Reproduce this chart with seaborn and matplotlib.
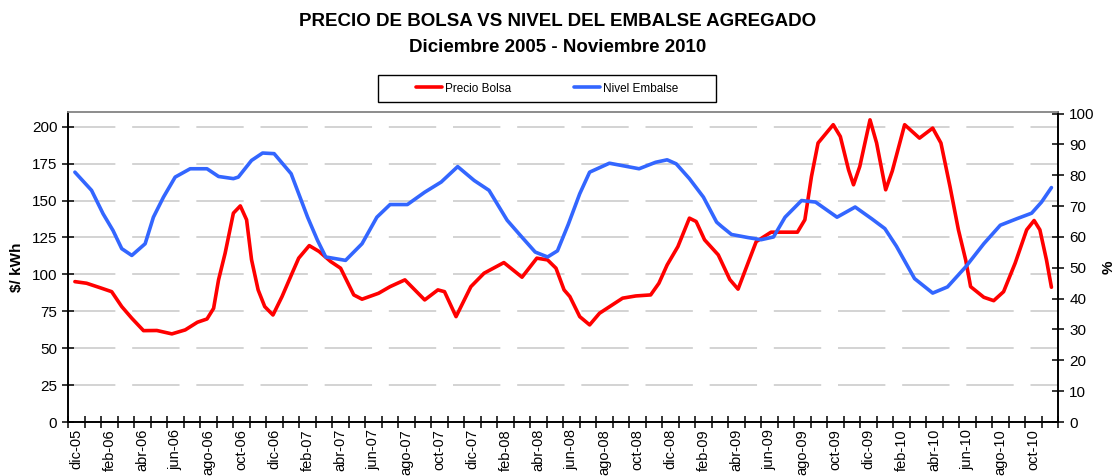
import numpy as np
import matplotlib
matplotlib.use("Agg")
import matplotlib.pyplot as plt
from matplotlib.patches import Rectangle
import seaborn as sns

# Months counted from the start of dic-05
precio_mes = [0.39, 1.1, 1.91, 2.62, 3.23, 3.84, 4.55, 5.36, 6.27, 7.08, 7.82, 8.4, 8.8,
              9.1, 9.5, 10.0, 10.42, 10.8, 11.1, 11.5, 11.9, 12.4, 12.95, 13.56, 13.96,
              14.6, 15.2, 15.9, 16.5, 17.3, 17.8, 18.8, 19.5, 20.4, 21.6, 22.4, 22.8,
              23.5, 24.4, 25.2, 26.4, 27.5, 28.4, 29.05, 29.56, 30.05, 30.4, 31.0, 31.6,
              32.2, 33.6, 34.4, 35.3, 35.8, 36.3, 36.95, 37.65, 38.06, 38.57, 39.4, 40.1,
              40.6, 41.2, 41.7, 42.6, 44.2, 44.65, 45.05, 45.45, 46.37, 46.8, 47.3, 47.6,
              47.98, 48.6, 49.0, 49.55, 49.95, 50.7, 51.6, 52.4, 52.9, 53.45, 53.96, 54.4,
              54.7, 55.5, 56.1, 56.7, 57.4, 58.1, 58.55, 58.9, 59.3, 59.6]
precio_bolsa = [95.1, 94.0, 91.0, 88.3, 78.2, 70.3, 61.9, 62.0, 59.7, 62.4, 67.6, 69.8, 77.0,
                96.3, 114.4, 141.5, 146.4, 137.0, 110.0, 89.5, 78.2, 72.5, 85.0, 100.8, 111.0,
                119.5, 115.5, 108.7, 104.2, 86.1, 83.2, 87.2, 91.7, 96.3, 82.7, 89.5, 88.3,
                71.4, 91.7, 100.8, 108.0, 98.1, 111.0, 109.8, 104.2, 89.5, 85.0, 71.4, 65.8,
                73.7, 83.9, 85.4, 86.1, 94.0, 106.4, 118.8, 138.1, 135.8, 123.4, 113.2, 96.5,
                90.0, 107.6, 122.2, 128.6, 128.6, 137.0, 166.3, 189.0, 201.4, 193.4, 170.8, 160.7,
                173.1, 204.7, 189.0, 157.3, 170.0, 201.4, 192.3, 199.1, 189.0, 159.5, 130.2, 109.8,
                91.7, 84.5, 82.2, 88.3, 107.6, 130.2, 136.5, 130.2, 109.8, 91.3]

nivel_mes = [0.39, 1.4, 2.1, 2.7, 3.23, 3.84, 4.65, 5.15, 5.76, 6.47, 7.38, 8.4, 9.1, 10.0,
             10.3, 11.1, 11.77, 12.47, 13.5, 14.5, 15.1, 15.6, 16.8, 17.8, 18.7, 19.5,
             20.55, 21.6, 22.6, 23.6, 24.6, 25.5, 26.6, 27.4, 28.3, 29.05, 29.65, 30.3,
             31.0, 31.6, 32.8, 34.6, 35.6, 36.3, 36.85, 37.65, 38.5, 39.3, 39.6, 40.2,
             41.2, 42.0, 42.75, 43.45, 44.45, 45.3, 46.6, 47.7, 48.7, 49.5, 50.2, 51.3,
             52.4, 53.3, 54.4, 55.5, 56.5, 57.5, 58.4, 59.0, 59.6]
nivel_embalse = [81.0, 75.1, 67.5, 62.1, 56.2, 54.0, 57.8, 66.4, 72.9, 79.4, 82.1, 82.1, 79.6, 78.9,
                 79.4, 84.8, 87.2, 87.0, 80.5, 66.4, 58.9, 53.5, 52.4, 57.8, 66.4, 70.5,
                 70.5, 74.5, 77.8, 82.8, 78.3, 75.1, 65.4, 60.5, 55.1, 53.5, 55.5, 64.0,
                 74.0, 81.0, 83.9, 82.1, 84.2, 85.0, 83.7, 78.9, 72.9, 64.8, 63.4, 60.8,
                 59.8, 59.1, 60.0, 66.4, 71.8, 71.3, 66.4, 69.7, 65.9, 62.7, 57.0, 46.5,
                 41.8, 43.8, 50.3, 57.8, 63.8, 65.9, 67.7, 71.3, 76.0]

etiquetas_mes = ["dic-05", "feb-06", "abr-06", "jun-06", "ago-06", "oct-06", "dic-06",
                 "feb-07", "abr-07", "jun-07", "ago-07", "oct-07", "dic-07", "feb-08",
                 "abr-08", "jun-08", "ago-08", "oct-08", "dic-08", "feb-09", "abr-09",
                 "jun-09", "ago-09", "oct-09", "dic-09", "feb-10", "abr-10", "jun-10",
                 "ago-10", "oct-10"]
n_meses = 60

sns.set_theme(style="white")
plt.rcParams["font.family"] = ["Liberation Sans", "DejaVu Sans"]
plt.rcParams["text.color"] = "black"
plt.rcParams["axes.labelcolor"] = "black"
plt.rcParams["xtick.color"] = "black"
plt.rcParams["ytick.color"] = "black"

fig = plt.figure(figsize=(11.15, 4.76), dpi=100)
ax = fig.add_axes([0.0614, 0.1134, 0.8875, 0.6513])
ax2 = ax.twinx()

rojo = "#FF0000"
azul = "#3366FF"

sns.lineplot(x=precio_mes, y=precio_bolsa, ax=ax, color=rojo, lw=2.6, label="Precio Bolsa", legend=False)
sns.lineplot(x=nivel_mes, y=nivel_embalse, ax=ax2, color=azul, lw=2.6, label="Nivel Embalse", legend=False)

ax.set_xlim(0, n_meses)
ax.set_ylim(0, 210)
ax2.set_ylim(0, 100.5)
ax.set_yticks(np.arange(0, 201, 25))
ax2.set_yticks(np.arange(0, 101, 10))

# dashed horizontal grid on left-axis ticks
ax.yaxis.grid(True, color="#C8C8C8", lw=1.1, dashes=(31, 11))
ax.set_axisbelow(True)

# monthly tick marks, labels every second month centred in the month
ax.set_xticks(np.arange(0, n_meses + 1, 1))
ax.set_xticklabels([])
ax.set_xticks(np.arange(0.5, n_meses, 2), minor=True)
ax.set_xticklabels(etiquetas_mes, minor=True, rotation=90, fontsize=10.5)
ax.tick_params(axis="x", which="major", direction="inout", length=9, width=1.1, color="black", bottom=True)
ax.tick_params(axis="x", which="minor", length=0, pad=5, bottom=True, labelcolor="black")
ax.tick_params(axis="y", direction="inout", length=9, width=1.1, color="black", labelsize=11,
               left=True, labelcolor="black")
ax2.tick_params(axis="y", direction="inout", length=9, width=1.1, color="black", labelsize=11,
                right=True, labelcolor="black")

for a in (ax, ax2):
    for side in ("left", "right", "bottom"):
        a.spines[side].set_color("black")
        a.spines[side].set_linewidth(1.2)
    a.spines["top"].set_color("#8C8C8C")
    a.spines["top"].set_linewidth(1.2)

ax.set_ylabel("$/ kWh", fontsize=11, fontweight="bold", labelpad=6, color="black")
ax2.set_ylabel("%", fontsize=11, fontweight="bold", labelpad=5, color="black")
ax.set_xlabel("")

fig.text(0.5, 0.955, "PRECIO DE BOLSA VS NIVEL DEL EMBALSE AGREGADO", ha="center", va="center",
         fontsize=13.5, fontweight="bold", color="black")
fig.text(0.5, 0.9, "Diciembre 2005 - Noviembre 2010", ha="center", va="center",
         fontsize=13.5, fontweight="bold", color="black")

# legend box drawn separately so the entries sit well inside it
fig.patches.append(Rectangle((378 / 1115, 1 - 102 / 476), 338 / 1115, 27 / 476,
                             transform=fig.transFigure, fill=False, edgecolor="black", lw=1.0))
h1, l1 = ax.get_legend_handles_labels()
h2, l2 = ax2.get_legend_handles_labels()
leg = fig.legend(h1 + h2, l1 + l2, loc="center", bbox_to_anchor=(0.4906, 0.814), ncol=2,
                 fontsize=8.5, frameon=False, handlelength=2.2, handletextpad=0.3, columnspacing=5.3)
for t in leg.get_texts():
    t.set_color("black")

plt.savefig("out.png", dpi=100)
plt.close()
